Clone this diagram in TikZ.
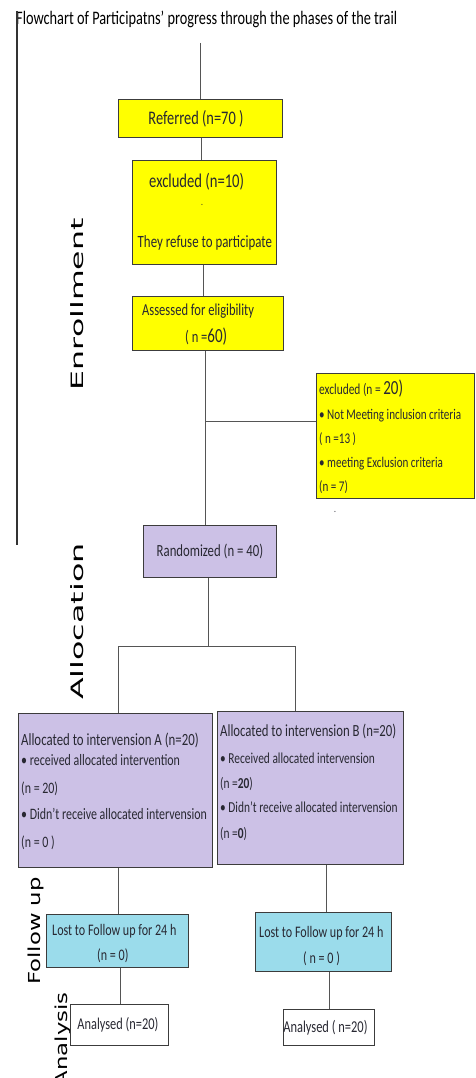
\documentclass[tikz,border=0pt]{standalone}
\usepackage{fontspec}
\setmainfont{Carlito}[FakeStretch=0.75]
\newfontfamily\labelfont{DejaVu Sans}
\usetikzlibrary{calc}
\definecolor{boxline}{RGB}{60,60,60}
\definecolor{conn}{RGB}{85,85,85}
\definecolor{yel}{RGB}{255,255,0}
\definecolor{lav}{RGB}{204,193,230}
\definecolor{cyanbox}{RGB}{155,220,235}
\definecolor{txt}{RGB}{40,40,50}
\tikzset{
  box/.style={draw=boxline, line width=0.9pt, anchor=north west, inner sep=0pt, text=txt},
  yelbox/.style={box, fill=yel},
  lavbox/.style={box, fill=lav},
  cyanbx/.style={box, fill=cyanbox},
  whitebox/.style={box, fill=white},
  lt/.style={anchor=base west, inner sep=0pt, text=txt},
  ct/.style={anchor=base, inner sep=0pt, text=txt},
  conline/.style={draw=conn, line width=0.8pt},
  phase/.style={rotate=90, anchor=base east, inner sep=0pt, font=\labelfont},
}
\newcommand{\fs}[1]{\fontsize{#1}{#1}\selectfont}
\begin{document}
\begin{tikzpicture}[x=1pt,y=-1pt]
\fill[white] (0,0) rectangle (475,1078);
\useasboundingbox (0,0) rectangle (475,1078);

% title and left rule
\node[anchor=base west, inner sep=0pt, font=\fs{19.1}] (title) at (16,25)
  {Flowchart of Participatns' progress through the phases of the trail};
\coordinate (ruletop) at (17,11);
\coordinate (rulebot) at (17,545);
\draw[draw=black!80, line width=1.2pt] (ruletop) -- (rulebot);

% phase labels
\node[phase] (lenr) at (83,218) {\fs{17}\scalebox{1.86}[1]{Enrollment}};
\node[phase] (lall) at (83,543) {\fs{17}\scalebox{1.87}[1]{Allocation}};
\node[phase] (lfol) at (40,877) {\fs{16.5}\scalebox{1.38}[1]{Follow up}};
\node[phase] (lana) at (67,992) {\fs{16.5}\scalebox{1.38}[1]{Analysis}};

% enrollment boxes
\node[yelbox, minimum width=164pt, minimum height=38pt, font=\fs{19.2}] (ref) at (118,99)
  {\hspace*{-9pt}Referred (n=70 )};
\node[yelbox, minimum width=144pt, minimum height=104pt] (exc10) at (132,160) {};
\node[lt, font=\fs{19.5}] (e10a) at (149,188) {excluded (n=10)};
\node[ct, font=\fs{10}] (e10b) at (202,205) {.};
\node[lt, font=\fs{17.2}] (e10c) at (137.5,247) {They refuse to participate};

\node[yelbox, minimum width=151pt, minimum height=54pt] (assess) at (132,296) {};
\node[lt, font=\fs{16.7}] (asa) at (142,315) {Assessed for eligibility};
\node[lt, font=\fs{16.7}] (asb) at (185,342) {( n =\fs{20}60)};

\node[yelbox, minimum width=158pt, minimum height=125pt] (exc20) at (316,373) {};
\node[lt, font=\fs{15.2}] (e20a) at (319,394) {excluded (n = \fs{20}20)};
\node[lt, font=\fs{14.8}] (e20b) at (319,419) {• Not Meeting inclusion criteria};
\node[lt, font=\fs{14.8}] (e20c) at (319,443) {( n =13 )};
\node[lt, font=\fs{14.8}] (e20d) at (319,467) {• meeting Exclusion criteria};
\node[lt, font=\fs{14.8}] (e20e) at (319,491) {(n = 7)};
\node[ct, font=\fs{10}] (dot) at (335,512) {.};

% allocation
\node[lavbox, minimum width=133pt, minimum height=52pt, font=\fs{17}] (rand) at (143,525)
  {Randomized (n = 40)};

\node[lavbox, minimum width=194pt, minimum height=154pt] (allA) at (18,713) {};
\node[lt, font=\fs{17.1}] (aa1) at (21,745) {Allocated to intervension A (n=20)};
\node[lt, font=\fs{15.9}] (aa2) at (21,765) {• received allocated intervention};
\node[lt, font=\fs{15.9}] (aa3) at (21,793) {(n = 20)};
\node[lt, font=\fs{15.9}] (aa4) at (21,819) {• Didn't receive allocated intervension};
\node[lt, font=\fs{15.9}] (aa5) at (21,847) {(n = 0 )};

\node[lavbox, minimum width=186pt, minimum height=153pt] (allB) at (217,711) {};
\node[lt, font=\fs{17}] (bb1) at (220,736) {Allocated to intervension B (n=20)};
\node[lt, font=\fs{15.2}] (bb2) at (220,763) {• Received allocated intervension};
\node[lt, font=\fs{15.2}] (bb3) at (220,788) {(n =\textbf{20})};
\node[lt, font=\fs{15.2}] (bb4) at (220,812) {• Didn't receive allocated intervension};
\node[lt, font=\fs{15.2}] (bb5) at (220,838) {(n =\textbf{0})};

% follow up
\node[cyanbx, minimum width=142pt, minimum height=53pt] (lostA) at (46,914) {};
\node[lt, font=\fs{16.1}] (la1) at (52,935) {Lost to Follow up for 24 h};
\node[lt, font=\fs{16.1}] (la2) at (97,960) {(n = 0)};
\node[cyanbx, minimum width=136pt, minimum height=59pt] (lostB) at (255,912) {};
\node[lt, font=\fs{16.1}] (lb1) at (259,937) {Lost to Follow up for 24 h};
\node[lt, font=\fs{16.1}] (lb2) at (303,963) {( n = 0 )};

% analysis
\node[whitebox, minimum width=98pt, minimum height=41pt, font=\fs{16.5}] (anA) at (70,1004)
  {\hspace*{-3pt}Analysed (n=20)};
\node[whitebox, minimum width=91pt, minimum height=36pt, font=\fs{16.6}] (anB) at (283,1009)
  {\hspace*{-7pt}Analysed ( n=20)};

% connectors
\coordinate (top) at (200,43);
\draw[conline] (top) -- (top |- ref.north);
\coordinate (c1) at (201,137);
\draw[conline] (c1 |- ref.south) -- (c1 |- exc10.north);
\coordinate (c2) at (203,264);
\draw[conline] (c2 |- exc10.south) -- (c2 |- assess.north);
\coordinate (c3) at (205,421);
\draw[conline] (c3 |- assess.south) -- (c3 |- rand.north);
\draw[conline] (c3) -- (c3 -| exc20.west);
\coordinate (c4) at (208,646);
\draw[conline] (c4 |- rand.south) -- (c4);
\coordinate (sA) at (118,646);
\coordinate (sB) at (295,646);
\draw[conline] (sA) -- (sB);
\draw[conline] (sA) -- (sA |- allA.north);
\draw[conline] (sB) -- (sB |- allB.north);
\coordinate (c5) at (118,890);
\draw[conline] (c5 |- allA.south) -- (c5 |- lostA.north);
\coordinate (c6) at (326,890);
\draw[conline] (c6 |- allB.south) -- (c6 |- lostB.north);
\coordinate (c7) at (120,990);
\draw[conline] (c7 |- lostA.south) -- (c7 |- anA.north);
\coordinate (c8) at (329,990);
\draw[conline] (c8 |- lostB.south) -- (c8 |- anB.north);
\end{tikzpicture}
\end{document}
